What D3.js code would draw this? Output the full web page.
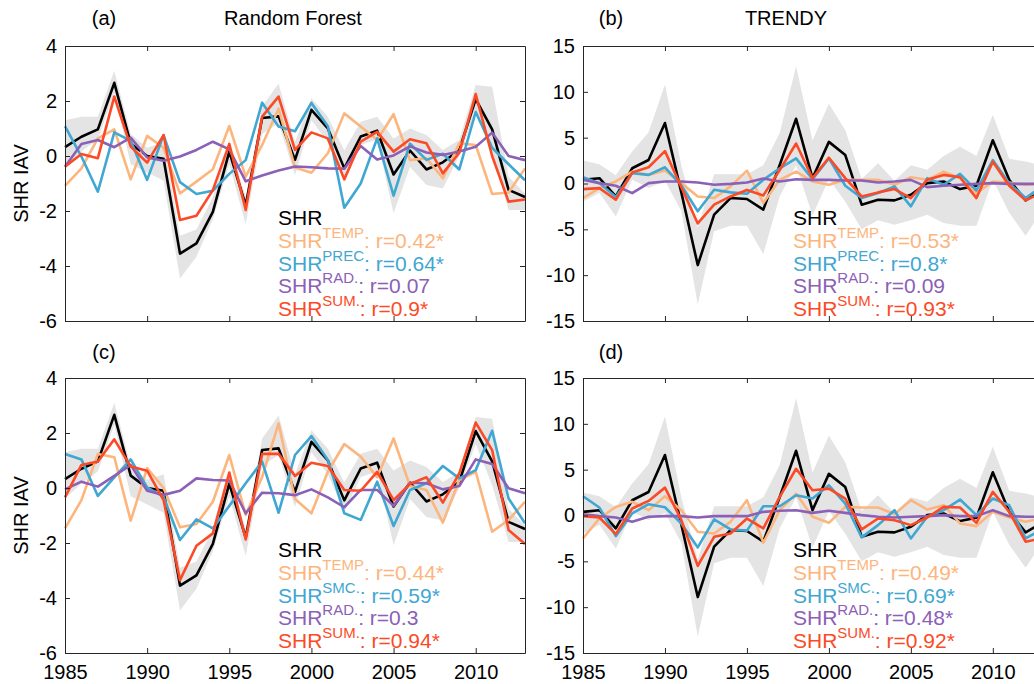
<!DOCTYPE html>
<html>
<head>
<meta charset="utf-8">
<script src="https://cdn.jsdelivr.net/npm/d3@7"></script>
<style>
html, body { margin: 0; padding: 0; overflow: hidden; background: #fff; }
text { font-family: "Liberation Sans", Arial, sans-serif; }
</style>
</head>
<body>
<svg id="fig" width="1034" height="684"></svg>
<script>
// years on the x axis
var years = [1985, 1986, 1987, 1988, 1989, 1990, 1991, 1992, 1993, 1994,
             1995, 1996, 1997, 1998, 1999, 2000, 2001, 2002, 2003, 2004,
             2005, 2006, 2007, 2008, 2009, 2010, 2011, 2012, 2013];
var xTicks = [1985, 1990, 1995, 2000, 2005, 2010];
var rfTicks = [-6, -4, -2, 0, 2, 4];
var trTicks = [-15, -10, -5, 0, 5, 10, 15];

// Random Forest SHR + spread
var rf_shr = [0.32, 0.70, 0.97, 2.66, 0.45, 0.0, -0.1, -3.55, -3.18, -2.03,
              0.16, -1.8, 1.38, 1.44, -0.14, 1.68, 1.0, -0.45, 0.71, 0.92,
              -0.67, 0.2, -0.49, -0.23, 0.22, 2.07, 0.97, -1.23, -1.49];
var rf_hi = [1.3, 1.43, 1.43, 3.1, 0.8, 0.3, 0.5, -2.9, -2.67, -1.5,
             0.5, -1.5, 1.8, 2.64, 0.5, 2.1, 1.43, 0.2, 1.25, 1.43,
             0.64, 1.0, 0.76, 0.22, 0.58, 2.58, 2.52, -0.75, -1.36];
var rf_lo = [-0.39, 0.16, 0.6, 2.3, -0.3, -0.6, -0.9, -4.45, -3.66, -2.3,
             -0.3, -2.47, 0.8, 1.2, -0.7, 1.3, 0.5, -0.87, 0.4, 0.6,
             -2.08, -0.4, -1.05, -1.18, 0.0, 1.6, 0.1, -1.96, -1.96];

// panel (a)
var a_temp = [-1.09, -0.45, 0.64, 0.97, -0.85, 0.73, 0.3, -1.36, -0.93, -0.48,
              1.09, -0.75, 0.4, 1.72, -0.42, -0.61, 0.1, 1.55, 1.07, 0.58,
              1.52, -0.15, -0.08, -0.81, 0.46, 0.4, -1.38, -1.33, -0.45];
var a_prec = [1.09, -0.02, -1.3, 0.86, 0.55, -0.87, 0.76, -0.95, -1.38, -1.26,
              -0.65, -0.15, 1.94, 1.07, 0.9, 1.93, 1.08, -1.88, -1.0, 0.64,
              -1.44, 0.45, -0.14, 0.08, -0.49, 1.6, 0.3, -0.3, -0.88];
var a_rad = [-0.39, 0.44, 0.58, 0.32, 0.67, -0.05, -0.17, -0.02, 0.22, 0.52,
             0.24, -0.92, -0.71, -0.53, -0.38, -0.41, -0.45, -0.46, 0.36, -0.13,
             0.02, 0.35, 0.13, 0.04, 0.16, 0.34, 0.85, 0.0, -0.15];
var a_sum = [-0.39, 0.07, -0.08, 2.16, 0.34, -0.24, 0.76, -2.33, -2.17, -1.24,
             0.44, -1.96, 1.43, 2.16, 0.22, 0.86, 0.64, -0.85, 0.52, 0.88,
             0.16, 0.61, 0.46, -0.63, 0.12, 2.25, 0.0, -1.66, -1.58];

// panel (c)
var c_temp = [-1.47, -0.44, 1.24, 1.12, -1.19, 0.72, 0.0, -1.43, -1.31, -0.5,
              1.2, -0.98, 0.4, 2.35, -0.4, -0.92, 0.59, 1.6, 1.14, 0.39,
              1.8, 0.07, -0.07, -1.26, 0.29, 0.59, -1.59, -1.16, -0.5];
var c_smc = [1.24, 1.04, -0.29, 0.39, 1.04, 0.02, -0.32, -1.89, -1.14, -1.47,
             -0.65, 0.17, 0.96, -0.9, 1.2, 1.89, 1.02, -0.92, -1.16, 0.23,
             -1.38, -0.07, 0.17, 0.8, 0.35, 0.65, 2.08, -0.38, -1.28];
var c_rad = [-0.05, 0.23, 0.05, 0.44, 0.84, -0.1, -0.25, -0.1, 0.35, 0.29,
             0.27, -0.92, -0.17, -0.19, -0.26, -0.05, -0.34, -0.7, -0.07, -0.07,
             -0.65, 0.19, 0.17, -0.05, 0.07, 1.04, 0.87, -0.01, -0.19];
var c_sum = [-0.34, 0.84, 0.96, 1.77, 0.78, 0.63, -0.44, -3.35, -2.1, -1.65,
             0.56, -1.87, 1.24, 1.24, 0.44, 0.92, 0.8, -0.07, -0.1, 0.59,
             -0.44, 0.15, 0.39, -0.53, 0.53, 2.38, 1.38, -1.53, -2.04];

// TRENDY SHR + spread
var tr_shr = [0.4, 0.58, -1.4, 1.66, 2.56, 6.6, -1.0, -8.9, -3.39, -1.59,
              -1.69, -2.85, 2.02, 7.06, 0.58, 4.54, 3.1, -2.31, -1.77, -1.84,
              -1.23, 0.04, 0.22, -0.61, -0.25, 4.72, 0.4, -1.84, -0.8];
var tr_hi = [2.5, 2.1, 0.9, 3.5, 5.6, 10.8, 2.0, -4.8, 1.0, 1.0,
             1.0, 2.0, 5.5, 12.8, 4.7, 8.7, 5.8, 0.5, 2.2, 0.3,
             2.0, 1.5, 3.0, 4.0, 3.0, 7.5, 2.7, 2.4, 2.0];
var tr_lo = [-2.0, -1.0, -3.6, 0.4, -0.5, 0.3, -3.0, -13.2, -5.2, -4.6,
             -4.6, -7.7, -1.4, 2.0, -3.5, 0.5, -2.0, -5.0, -4.0, -4.5,
             -4.0, -3.4, -4.3, -4.6, -4.6, 0.4, -3.2, -5.7, -3.0];

// panel (b)
var b_temp = [-1.59, -0.5, 0.22, 1.3, 0.94, 1.41, 0.04, -1.41, -1.59, -0.32,
              1.41, -2.13, 0.4, 1.3, 0.22, -0.14, 0.4, 0.4, 0.4, -0.14,
              0.68, 0.4, 1.3, 0.58, -1.05, 0.22, 0.11, -0.14, 0.0];
var b_prec = [0.68, 0.04, -1.48, 1.12, 0.94, 1.77, -0.2, -3.03, -0.68, -0.97,
              -1.12, 0.4, 1.66, 2.74, 0.47, 2.74, -0.25, -1.59, -1.05, -0.32,
              -2.49, 0.58, -0.14, 1.05, -0.76, 2.56, 0.04, -1.59, -0.3];
var b_rad = [0.4, 0.04, -0.25, -1.05, 0.04, 0.22, 0.22, 0.11, -0.14, -0.04,
             0.11, 0.54, 0.22, 0.47, 0.4, 0.4, 0.32, 0.32, 0.11, 0.22,
             0.4, -0.4, -0.25, -0.14, -0.04, 0.04, -0.04, -0.04, -0.04];
var b_sum = [-0.61, -0.5, -1.77, 1.19, 1.77, 3.53, -0.4, -4.36, -2.31, -1.41,
             -0.7, -1.3, 1.48, 4.36, 0.58, 2.81, 0.58, -1.41, -0.97, -0.61,
             -1.59, 0.4, 0.94, 0.68, -1.59, 2.38, -0.25, -1.84, -1.0];

// panel (d)
var d_temp = [-2.5, -0.33, 0.94, 1.49, 0.58, 2.1, 0.58, -1.78, -1.96, -0.69,
              1.67, -2.97, 0.58, 2.39, -0.14, -0.8, 0.94, 0.87, 0.87, 0.14,
              1.67, 0.65, 1.12, -0.87, -1.16, 0.4, -0.22, -0.69, -0.3];
var d_smc = [2.1, 0.87, -2.25, 0.22, 1.23, 0.9, -0.87, -3.48, -0.43, -1.52,
             -1.65, 1.01, 1.01, 2.21, 1.85, 3.3, 1.3, -2.39, -1.05, 0.58,
             -2.5, -0.14, 0.58, 1.74, 0.04, 1.85, 1.12, -2.5, -1.5];
var d_rad = [0.14, -0.07, -0.22, -0.69, -0.14, -0.07, -0.07, -0.22, -0.07, -0.07,
             -0.07, 0.4, 0.51, 0.58, 0.29, 0.51, 0.29, 0.04, -0.14, -0.22,
             -0.14, -0.07, 0.04, -0.07, -0.07, 0.58, -0.07, -0.14, -0.14];
var d_sum = [-0.07, -0.22, -2.03, 0.76, 1.59, 3.04, -0.5, -5.5, -2.32, -1.96,
             -0.33, -1.41, 2.03, 5.1, 2.75, 2.93, 1.85, -1.52, -0.33, -0.51,
             -1.05, -0.22, 0.94, 0.87, -0.8, 2.57, 0.4, -2.86, -2.5];

// legend text
var a_legend = [['TEMP', '0.42*'], ['PREC', '0.64*'], ['RAD.', '0.07'], ['SUM.', '0.9*']];
var b_legend = [['TEMP', '0.53*'], ['PREC', '0.8*'], ['RAD.', '0.09'], ['SUM.', '0.93*']];
var c_legend = [['TEMP', '0.44*'], ['SMC.', '0.59*'], ['RAD.', '0.3'], ['SUM.', '0.94*']];
var d_legend = [['TEMP', '0.49*'], ['SMC.', '0.69*'], ['RAD.', '0.48*'], ['SUM.', '0.92*']];

var colors = ['#fdb57e', '#3fa7d2', '#8b60b6', '#fc4a26'];
var bandColor = '#e4e4e4';

var svg = d3.select('#fig');

gen_panel({left: 65, right: 525, top: 46, bottom: 321, domain: [-6, 4], yTicks: rfTicks,
           shr: rf_shr, hi: rf_hi, lo: rf_lo, series: [a_temp, a_prec, a_rad, a_sum],
           legend: a_legend, lx: 278, ly: 225, xLabels: false, yLabel: true,
           tag: '(a)', tagX: 104, title: 'Random Forest', titleX: 293, titleY: 25});
gen_panel({left: 583, right: 1042, top: 46, bottom: 321, domain: [-15, 15], yTicks: trTicks,
           shr: tr_shr, hi: tr_hi, lo: tr_lo, series: [b_temp, b_prec, b_rad, b_sum],
           legend: b_legend, lx: 793, ly: 225, xLabels: false, yLabel: false,
           tag: '(b)', tagX: 611, title: 'TRENDY', titleX: 786, titleY: 25});
gen_panel({left: 65, right: 525, top: 378, bottom: 653, domain: [-6, 4], yTicks: rfTicks,
           shr: rf_shr, hi: rf_hi, lo: rf_lo, series: [c_temp, c_smc, c_rad, c_sum],
           legend: c_legend, lx: 278, ly: 557, xLabels: true, yLabel: true,
           tag: '(c)', tagX: 104, title: null, titleY: 359});
gen_panel({left: 583, right: 1042, top: 378, bottom: 653, domain: [-15, 15], yTicks: trTicks,
           shr: tr_shr, hi: tr_hi, lo: tr_lo, series: [d_temp, d_smc, d_rad, d_sum],
           legend: d_legend, lx: 793, ly: 557, xLabels: true, yLabel: false,
           tag: '(d)', tagX: 611, title: null, titleY: 359});

function gen_panel(p) {
    var x = d3.scaleLinear().domain([1985, 2013]).range([p.left, p.right]);
    var y = d3.scaleLinear().domain(p.domain).range([p.bottom, p.top]);
    var g = svg.append('g');

    // spread of the SHR estimate
    var band = d3.area()
        .x(function(d, i) { return x(years[i]); })
        .y0(function(d, i) { return y(p.lo[i]); })
        .y1(function(d) { return y(d); });
    g.append('path').datum(p.hi)
        .attr('fill', bandColor)
        .attr('d', band);

    var line = d3.line()
        .x(function(d, i) { return x(years[i]); })
        .y(function(d) { return y(d); });

    g.append('path').datum(p.shr)
        .attr('fill', 'none').attr('stroke', '#000').attr('stroke-width', 2.6)
        .attr('stroke-linejoin', 'round')
        .attr('d', line);
    p.series.forEach(function(s, k) {
        g.append('path').datum(s)
            .attr('fill', 'none').attr('stroke', colors[k]).attr('stroke-width', 2.6)
            .attr('stroke-linejoin', 'round')
            .attr('d', line);
    });

    // frame with inward ticks, plain hyphen for negatives
    var plain = function(d) { return String(d); };
    var xb = d3.axisBottom(x).tickValues(xTicks).tickSizeInner(-5).tickSizeOuter(0).tickPadding(12)
        .tickFormat(p.xLabels ? plain : function() { return ''; });
    var xt = d3.axisTop(x).tickValues(xTicks).tickSizeInner(-5).tickSizeOuter(0).tickFormat('');
    var yl = d3.axisLeft(y).tickValues(p.yTicks).tickSizeInner(-5).tickSizeOuter(0).tickPadding(8)
        .tickFormat(plain);
    var yr = d3.axisRight(y).tickValues(p.yTicks).tickSizeInner(-5).tickSizeOuter(0).tickFormat('');

    g.append('g').attr('transform', 'translate(0,' + p.bottom + ')').call(xb);
    g.append('g').attr('transform', 'translate(0,' + p.top + ')').call(xt);
    g.append('g').attr('transform', 'translate(' + p.left + ',0)').call(yl);
    g.append('g').attr('transform', 'translate(' + p.right + ',0)').call(yr);
    g.selectAll('.domain, .tick line').attr('stroke', '#262626');
    g.selectAll('.tick text').attr('fill', '#000').style('font-size', '20px')
        .style('font-family', '"Liberation Sans", Arial, sans-serif');

    // legend
    var lg = g.append('g').style('font-size', '21px');
    lg.append('text').attr('x', p.lx).attr('y', p.ly).attr('fill', '#000').text('SHR');
    p.legend.forEach(function(e, k) {
        var t = lg.append('text').attr('x', p.lx).attr('y', p.ly + (k + 1) * 22.8).attr('fill', colors[k]);
        t.append('tspan').text('SHR');
        t.append('tspan').attr('dy', -10).style('font-size', '15px').text(e[0]);
        t.append('tspan').attr('dy', 10).text(': r=' + e[1]);
    });

    // labels
    if (p.yLabel) {
        svg.append('text')
            .attr('transform', 'translate(28,' + ((p.top + p.bottom) / 2) + ') rotate(-90)')
            .attr('text-anchor', 'middle').style('font-size', '20px')
            .text('SHR IAV');
    }
    svg.append('text').attr('x', p.tagX).attr('y', p.titleY).attr('text-anchor', 'middle')
        .style('font-size', '20px').text(p.tag);
    if (p.title) {
        svg.append('text').attr('x', p.titleX).attr('y', p.titleY).attr('text-anchor', 'middle')
            .style('font-size', '20px').text(p.title);
    }
}
</script>
</body>
</html>
